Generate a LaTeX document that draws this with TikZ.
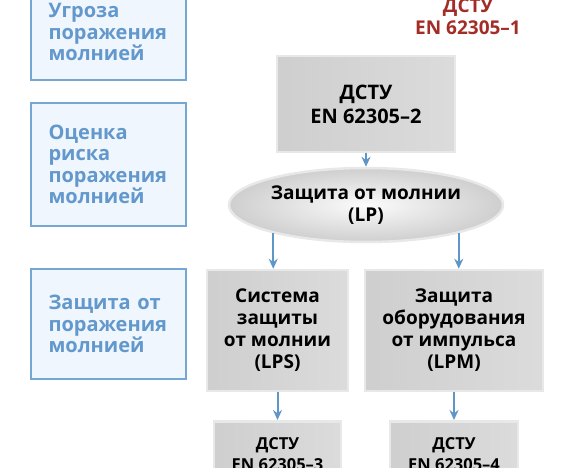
\documentclass[tikz,border=0pt]{standalone}
\usepackage{fontspec}
\setmainfont{Open Sans}
\usetikzlibrary{arrows.meta,shapes.geometric}
\definecolor{stageline}{RGB}{118,166,210}
\definecolor{stagefill}{RGB}{240,246,253}
\definecolor{stagetext}{RGB}{98,152,204}
\definecolor{linkblue}{RGB}{95,150,200}
\definecolor{normred}{RGB}{163,45,38}

\begin{document}
\begin{tikzpicture}[x=1pt, y=-1pt, >={Stealth[length=10pt,width=9pt]},
    every node/.style={font=\bfseries\fontsize{20}{21.5}\selectfont, align=center}]
  \tikzset{
    stagebox/.style={draw=stageline, line width=2.5pt, fill=stagefill, text=stagetext,
      align=left, text width=120pt, inner xsep=17.5pt, minimum width=155pt},
    graybox/.style={draw=gray!18, line width=2.5pt, left color=gray!38, middle color=gray!5,
      right color=gray!28, text=black, inner sep=0pt},
    link/.style={->, draw=linkblue, fill=linkblue, line width=2pt}
  }
  \useasboundingbox (0,0) rectangle (570,468);
  % left column: stages
  \node[stagebox, minimum height=96pt] (threat) at (108.5,32) {Угроза\\поражения\\молнией};
  \node[stagebox, minimum height=123pt] (risk) at (108.5,164.5) {Оценка\\риска\\поражения\\молнией};
  \node[stagebox, minimum height=110pt] (protect) at (108.5,324) {Защита от\\поражения\\молнией};
  % standards
  \node[text=normred, font=\bfseries\fontsize{19}{22}\selectfont] (std1) at (468,17) {ДСТУ\\EN 62305–1};
  \node[graybox, minimum width=178pt, minimum height=96pt,
    font=\bfseries\fontsize{20}{24}\selectfont] (std2) at (366,104) {ДСТУ\\EN 62305–2};
  \node[graybox, ellipse, minimum width=274pt, minimum height=74pt,
    inner color=gray!3, outer color=gray!38, font=\bfseries\fontsize{19}{21.5}\selectfont] (lp) at (366,205) {Защита от молнии\\(LP)};
  \node[graybox, minimum width=141pt, minimum height=121pt,
    font=\bfseries\fontsize{19}{22}\selectfont] (lps) at (277.5,330.5) {Система\\защиты\\от молнии\\(LPS)};
  \node[graybox, minimum width=178pt, minimum height=121pt,
    font=\bfseries\fontsize{19}{22}\selectfont] (lpm) at (454,330.5) {Защита\\оборудования\\от импульса\\(LPM)};
  \node[graybox, minimum width=127pt, inner ysep=16pt, anchor=north,
    font=\bfseries\fontsize{16.5}{21}\selectfont] (std3) at (277.5,420) {ДСТУ\\EN 62305–3};
  \node[graybox, minimum width=128pt, inner ysep=16pt, anchor=north,
    font=\bfseries\fontsize{16.5}{21}\selectfont] (std4) at (454,420) {ДСТУ\\EN 62305–4};
  % connectors
  \draw[link] (std2) -- (lp);
  \draw[link] (lp.197.5) -- (lp.197.5 |- lps.north);
  \draw[link] (lp.-17.5) -- (lp.-17.5 |- lpm.north);
  \draw[link] (lps) -- (std3);
  \draw[link] (lpm) -- (std4);
\end{tikzpicture}
\end{document}
